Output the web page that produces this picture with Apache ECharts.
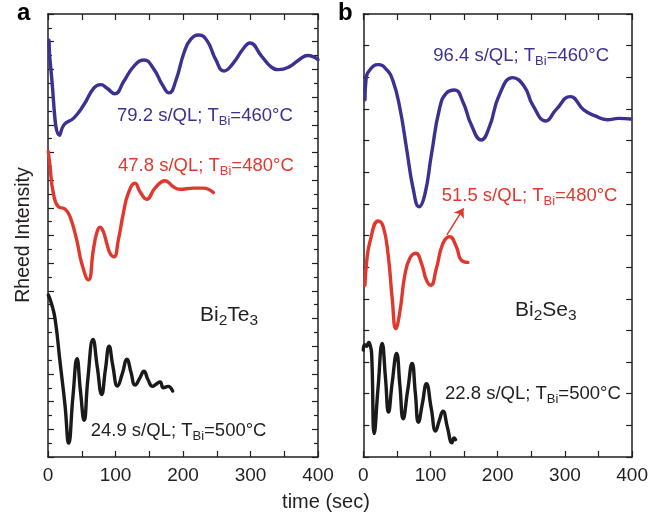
<!DOCTYPE html>
<html><head><meta charset="utf-8">
<script src="https://cdn.jsdelivr.net/npm/echarts@6/dist/echarts.min.js"></script>
<style>html,body{margin:0;padding:0;background:#fff}#c{width:651px;height:517px}</style>
</head><body><div id="c"></div>
<script>
// ---- data (time in sec, intensity in arbitrary offset units) ----
const xTickLabels = [0, 100, 200, 300, 400];

const blueA_t = [1.5, 4, 17.3, 23.7, 38.5, 53.3, 68.1, 78, 87.9, 98.8, 112.6, 127.4, 142.2, 157, 169.3, 179.3, 189.2, 201.5, 211.4, 223.7, 236, 248.4, 260.7, 273, 290.4, 299, 316.6, 330, 341, 358, 372, 385, 400];
const blueA_v = [15.05, 14.06, 11.62, 12.0, 12.25, 12.73, 13.33, 13.45, 13.31, 13.12, 13.58, 14.12, 14.34, 14.0, 13.45, 13.15, 13.58, 14.6, 15.08, 15.24, 15.02, 14.36, 13.94, 14.18, 14.78, 14.95, 14.47, 14.1, 13.99, 14.1, 14.35, 14.5, 14.35];

const redA_t = [0.5, 3, 7.9, 15.3, 25.2, 32.6, 42.5, 49.9, 59.8, 67.2, 72.1, 77, 82, 87, 91.9, 97.8, 104.2, 111.6, 119, 128.9, 136.3, 146.2, 158.5, 173.3, 185.7, 195.6, 215.3, 230, 245];
const redA_v = [11.03, 10.49, 9.53, 9.04, 8.96, 8.68, 7.84, 7.0, 6.4, 7.48, 8.08, 8.3, 8.14, 7.72, 7.36, 7.23, 7.84, 8.8, 9.53, 9.89, 9.58, 9.31, 9.71, 9.98, 9.76, 9.67, 9.71, 9.71, 9.55];

const blackA_t = [0.5, 5, 10.4, 17.8, 25.2, 30.6, 37, 43, 48, 53.5, 59, 66.7, 73, 79.5, 85, 90.6, 96, 103, 110, 117, 123, 129, 136, 142.2, 148, 155, 160, 166, 171, 178, 184.7];
const blackA_v = [5.85, 5.55, 5.0, 3.44, 1.87, 0.5, 2.2, 3.55, 2.4, 1.33, 2.8, 4.25, 3.25, 2.26, 3.15, 4.0, 3.3, 2.56, 3.0, 3.53, 3.05, 2.6, 2.85, 3.1, 2.8, 2.55, 2.63, 2.71, 2.5, 2.55, 2.38];

const blueB_t = [2.5, 4, 9.9, 22.2, 34.7, 44.4, 54.4, 64.3, 74.1, 83, 91.4, 101.3, 113.6, 123.6, 135.9, 148.1, 160.6, 175.4, 187.7, 202.5, 222.2, 239.5, 251.9, 271.7, 286.5, 308, 328, 345, 363, 380, 398];
const blueB_v = [11.29, 11.92, 12.24, 12.4, 12.24, 11.87, 11.03, 9.76, 8.49, 7.91, 8.28, 9.55, 11.03, 11.5, 11.6, 11.23, 10.5, 10.02, 10.44, 11.45, 11.99, 11.71, 11.13, 10.62, 10.97, 11.39, 10.97, 10.78, 10.66, 10.7, 10.68];

const redB_t = [2.5, 5, 9.9, 22.2, 29.6, 37, 43, 48.4, 54.4, 61.8, 69.2, 78.1, 86.5, 93.9, 100.3, 108.7, 118.5, 128.4, 138.3, 145.8, 155.6];
const redB_v = [5.43, 6.17, 6.8, 7.46, 7.28, 6.38, 5.01, 4.06, 4.59, 5.75, 6.28, 6.44, 6.12, 5.59, 5.43, 5.96, 6.75, 6.96, 6.65, 6.22, 6.15];

const blackB_t = [0, 2, 5, 8, 10, 12.4, 16.3, 22, 28.1, 33, 37.5, 43, 49.5, 54.5, 59.3, 66, 72.6, 77.5, 82, 88, 93.9, 101, 107.7, 113, 118.5, 125, 132, 135, 137.3];
const blackB_v = [3.38, 3.55, 3.5, 3.62, 3.55, 3.27, 0.74, 2.2, 3.59, 2.5, 1.42, 2.35, 3.27, 2.25, 1.21, 2.1, 2.96, 2.0, 1.1, 1.7, 2.32, 1.55, 0.82, 1.15, 1.45, 0.95, 0.45, 0.6, 0.55];

const arrowFrom = [124.4, 7.02];
const arrowTo = [149.2, 7.86];

// ---- styling ----
const FONT = '"Liberation Sans", Arial, Helvetica, sans-serif';
const INK = '#231f20';
const BLUE = '#3b3192';
const RED = '#e0382c';
const BLACK = '#1a1a1a';

function pairs(t, v) { return t.map((x, i) => [x, v[i]]); }

const chart = echarts.init(document.getElementById('c'), null, {renderer: 'canvas'});

function xAxisDef(grid, pos, labels) {
  return {
    type: 'value', gridIndex: grid, position: pos, min: 0, max: 400, interval: 100,
    axisLine: {show: true, onZero: false, lineStyle: {color: INK, width: 1.5}},
    axisTick: {show: true, inside: true, length: 6, lineStyle: {color: INK, width: 1.2}},
    minorTick: {show: true, splitNumber: 2, length: 6, lineStyle: {color: INK, width: 1.2}},
    axisLabel: {show: labels, fontSize: 19, color: INK, fontFamily: FONT, margin: 9,
      showMinLabel: true, showMaxLabel: true,
      formatter: v => (xTickLabels.indexOf(v) >= 0 ? String(v) : '')},
    splitLine: {show: false}, minorSplitLine: {show: false}
  };
}
function yAxisDef(grid, pos, max, minor) {
  return {
    type: 'value', gridIndex: grid, position: pos, min: 0, max: max, interval: 1,
    axisLine: {show: true, onZero: false, lineStyle: {color: INK, width: 1.5}},
    axisTick: {show: true, inside: true, length: 6, lineStyle: {color: INK, width: 1.2}},
    minorTick: {show: minor, splitNumber: 2, length: 4, lineStyle: {color: INK, width: 1.2}},
    axisLabel: {show: false},
    splitLine: {show: false}, minorSplitLine: {show: false}
  };
}
function line(xi, yi, data, color, extra) {
  return Object.assign({
    type: 'line', xAxisIndex: xi, yAxisIndex: yi, data: data, showSymbol: false,
    smooth: 0.5, lineStyle: {color: color, width: 3.4, cap: 'round', join: 'round'},
    itemStyle: {color: color}, animation: false, silent: true, z: 3
  }, extra || {});
}
function label(x, y, color, pre, sub, post, size, subSize) {
  size = size || 18.5; subSize = subSize || 13;
  return {
    type: 'text', left: x, top: y, z: 10,
    style: {
      text: '{m|' + pre + '}{s|' + sub + '}{m|' + post + '}',
      rich: {
        m: {fontSize: size, fontFamily: FONT, fill: color, color: color, lineHeight: 24, verticalAlign: 'middle'},
        s: {fontSize: subSize, fontFamily: FONT, fill: color, color: color, lineHeight: 10, verticalAlign: 'bottom'}
      }
    }
  };
}

const option = {
  backgroundColor: '#fff',
  animation: false,
  grid: [
    {left: 48, top: 14, width: 270, height: 443, containLabel: false},
    {left: 363.3, top: 14, width: 270, height: 443, containLabel: false}
  ],
  xAxis: [
    xAxisDef(0, 'bottom', true), xAxisDef(0, 'top', false),
    xAxisDef(1, 'bottom', true), xAxisDef(1, 'top', false)
  ],
  yAxis: [
    yAxisDef(0, 'left', 16, true), yAxisDef(0, 'right', 16, true),
    yAxisDef(1, 'left', 14, false), yAxisDef(1, 'right', 14, false)
  ],
  series: [
    line(0, 0, pairs(blueA_t, blueA_v), BLUE),
    line(0, 0, pairs(redA_t, redA_v), RED),
    line(0, 0, pairs(blackA_t, blackA_v), BLACK),
    line(2, 2, pairs(blueB_t, blueB_v), BLUE),
    line(2, 2, pairs(redB_t, redB_v), RED, {
      markLine: {
        silent: true, symbol: ['none', 'arrow'], symbolSize: 9, animation: false,
        label: {show: false},
        lineStyle: {color: RED, width: 1.5, type: 'solid'},
        data: [[{coord: arrowFrom}, {coord: arrowTo}]]
      }
    }),
    line(2, 2, pairs(blackB_t, blackB_v), BLACK)
  ],
  graphic: [
    {type: 'text', left: 17, top: 1, style: {text: 'a', font: 'bold 24px ' + FONT, fill: '#000'}},
    {type: 'text', left: 338, top: 1, style: {text: 'b', font: 'bold 24px ' + FONT, fill: '#000'}},
    label(117, 106, BLUE, '79.2 s/QL; T', 'Bi', '=460°C'),
    label(118, 156, RED, '47.8 s/QL; T', 'Bi', '=480°C'),
    label(90.7, 421.6, INK, '24.9 s/QL; T', 'Bi', '=500°C'),
    label(433.3, 46, BLUE, '96.4 s/QL; T', 'Bi', '=460°C'),
    label(441.7, 186.6, RED, '51.5 s/QL; T', 'Bi', '=480°C'),
    label(445, 384.3, INK, '22.8 s/QL; T', 'Bi', '=500°C'),
    {
      type: 'text', left: 200, top: 305, z: 10,
      style: {
        text: '{m|Bi}{s|2}{m|Te}{s|3}',
        rich: {
          m: {fontSize: 21, fontFamily: FONT, fill: INK, color: INK, lineHeight: 26, verticalAlign: 'middle'},
          s: {fontSize: 15.5, fontFamily: FONT, fill: INK, color: INK, lineHeight: 12, verticalAlign: 'bottom'}
        }
      }
    },
    {
      type: 'text', left: 515, top: 300, z: 10,
      style: {
        text: '{m|Bi}{s|2}{m|Se}{s|3}',
        rich: {
          m: {fontSize: 21, fontFamily: FONT, fill: INK, color: INK, lineHeight: 26, verticalAlign: 'middle'},
          s: {fontSize: 15.5, fontFamily: FONT, fill: INK, color: INK, lineHeight: 12, verticalAlign: 'bottom'}
        }
      }
    },
    {
      type: 'text', x: 24, y: 235, rotation: Math.PI / 2, z: 10,
      style: {text: 'Rheed Intensity', font: '19.5px ' + FONT, fill: INK, align: 'center', verticalAlign: 'middle'}
    },
    {
      type: 'text', x: 326, y: 502, z: 10,
      style: {text: 'time (sec)', font: '20px ' + FONT, fill: INK, align: 'center', verticalAlign: 'middle'}
    }
  ]
};
chart.setOption(option);
</script>
</body></html>
